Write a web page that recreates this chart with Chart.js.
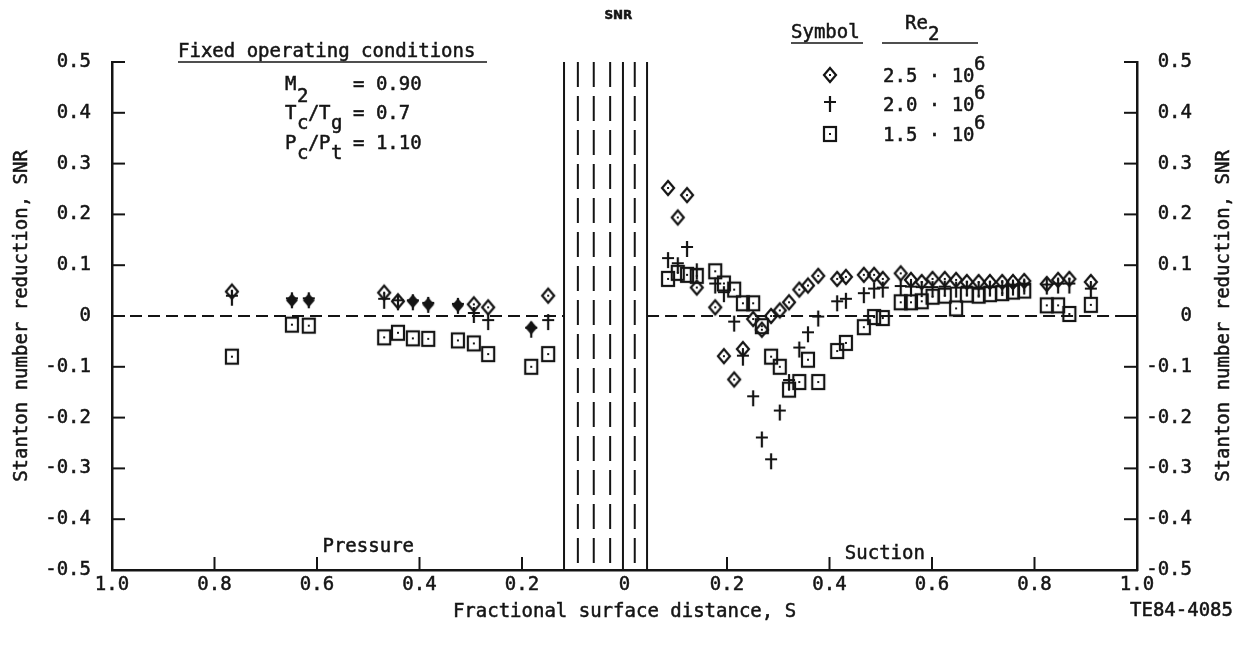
<!DOCTYPE html>
<html>
<head>
<meta charset="utf-8">
<script src="https://cdn.jsdelivr.net/npm/chart.js@4.4.0/dist/chart.umd.min.js"></script>
<style>
  html, body { margin: 0; background: #fff; }
  canvas { display: block; }
</style>
</head>
<body>
<canvas id="myChart" width="1241" height="652"></canvas>
<script>
// pressure side stations, plotted to the left of the stagnation point
const pressureS = [0.766, 0.649, 0.616, 0.469, 0.442, 0.413, 0.383, 0.325, 0.294, 0.266, 0.182, 0.149]
const pressureRe25 = [0.048, 0.031, 0.031, 0.046, 0.029, 0.029, 0.023, 0.021, 0.023, 0.017, -0.023, 0.040]
const pressureRe20 = [0.036, 0.031, 0.031, 0.030, 0.027, 0.027, 0.022, 0.020, 0.002, -0.012, -0.027, -0.012]
const pressureRe15 = [-0.080, -0.017, -0.019, -0.042, -0.033, -0.044, -0.045, -0.048, -0.054, -0.075, -0.100, -0.075]

// suction side stations
const suctionS = [0.085, 0.104, 0.122, 0.141, 0.177, 0.194, 0.214, 0.231, 0.251, 0.268, 0.286, 0.303, 0.321,
    0.341, 0.358, 0.378, 0.415, 0.432, 0.467, 0.487, 0.504, 0.539, 0.559, 0.580, 0.601, 0.625, 0.647, 0.668,
    0.691, 0.713, 0.737, 0.758, 0.780, 0.824, 0.846, 0.868, 0.910]
const suctionRe25 = [0.252, 0.194, 0.238, 0.056, 0.017, -0.079, -0.125, -0.065, -0.006, -0.027, 0.000, 0.011, 0.027,
    0.052, 0.060, 0.079, 0.073, 0.077, 0.081, 0.081, 0.073, 0.084, 0.071, 0.067, 0.073, 0.073, 0.071, 0.067,
    0.067, 0.067, 0.067, 0.067, 0.069, 0.063, 0.071, 0.073, 0.067]
const suctionRe20 = [0.110, 0.100, 0.132, 0.088, 0.060, 0.043, -0.015, -0.082, -0.162, -0.243, -0.286, -0.190, -0.130,
    -0.066, -0.036, -0.005, 0.025, 0.030, 0.041, 0.050, 0.052, 0.055, 0.054, 0.053, 0.053, 0.054, 0.052, 0.054,
    0.052, 0.054, 0.055, 0.056, 0.058, 0.058, 0.060, 0.060, 0.050]
const suctionRe15 = [0.073, 0.085, 0.081, 0.079, 0.088, 0.064, 0.052, 0.025, 0.025, -0.020, -0.080, -0.100, -0.145,
    -0.130, -0.086, -0.130, -0.069, -0.053, -0.022, -0.002, -0.004, 0.027, 0.027, 0.029, 0.038, 0.040, 0.015, 0.042,
    0.040, 0.043, 0.045, 0.048, 0.050, 0.021, 0.021, 0.004, 0.022]

const seriesLabels = ['2.5 · 10', '2.0 · 10', '1.5 · 10']
const xTickMarks = [-0.8, -0.6, -0.4, -0.2, 0.2, 0.4, 0.6, 0.8]

// slot / film cooling row boundaries around the stagnation region
const bandLines = [
    {s: -0.118, dash: false}, {s: -0.091, dash: true}, {s: -0.060, dash: true}, {s: -0.028, dash: true},
    {s: -0.003, dash: false}, {s: 0.020, dash: true}, {s: 0.044, dash: false}
]

const ink = '#141414'
const FONT = '19px "DejaVu Sans Mono"'
// pressure side diamonds that print solid (overlapping symbols in the scan)
const solidDiamonds = [1, 2, 5, 6, 7, 10]

function makeSymbol(kind, solid) {
    const c = document.createElement('canvas')
    c.width = 18
    c.height = 20
    const g = c.getContext('2d')
    g.strokeStyle = ink
    g.fillStyle = ink
    g.lineWidth = 2.2
    if (kind === 'diamond') {
        g.beginPath()
        g.moveTo(9, 3); g.lineTo(15, 10); g.lineTo(9, 17); g.lineTo(3, 10); g.closePath()
        if (solid) g.fill()
        else { g.stroke(); g.fillRect(8, 9, 2, 2) }
    } else if (kind === 'square') {
        g.strokeRect(3, 3, 12, 14)
        g.fillRect(8, 9, 2, 2)
    } else {
        g.beginPath()
        g.moveTo(9, 2); g.lineTo(9, 18)
        g.moveTo(3, 8); g.lineTo(15, 8)
        g.stroke()
    }
    return c
}
const symDiamond = makeSymbol('diamond', false)
const symDiamondSolid = makeSymbol('diamond', true)
const symPlus = makeSymbol('plus')
const symSquare = makeSymbol('square')

function toPoints(pVals, sVals) {
    const pts = pressureS.map((s, i) => ({x: -s, y: pVals[i]}))
    return pts.concat(suctionS.map((s, i) => ({x: s, y: sVals[i]})))
}

const datasets = [
    {label: seriesLabels[2], data: toPoints(pressureRe15, suctionRe15), pointStyle: symSquare},
    {label: seriesLabels[1], data: toPoints(pressureRe20, suctionRe20), pointStyle: symPlus},
    {label: seriesLabels[0], data: toPoints(pressureRe25, suctionRe25),
        pointStyle: (c) => (c.dataIndex < pressureS.length && solidDiamonds.includes(c.dataIndex)) ? symDiamondSolid : symDiamond}
]

function line(ctx, x1, y1, x2, y2) {
    ctx.beginPath()
    ctx.moveTo(x1, y1)
    ctx.lineTo(x2, y2)
    ctx.stroke()
}

function txt(ctx, s, x, y, align, font) {
    ctx.font = font || FONT
    ctx.textAlign = align || 'left'
    ctx.textBaseline = 'middle'
    ctx.lineWidth = 0.5
    ctx.strokeText(s, x, y)
    ctx.fillText(s, x, y)
}

const extras = {
    id: 'extras',
    beforeDatasetsDraw(chart) {
        const {ctx, chartArea: a, scales: {x, y}} = chart
        ctx.save()
        ctx.strokeStyle = ink
        ctx.lineWidth = 2
        // inward tick marks
        y.ticks.forEach(t => {
            const py = y.getPixelForValue(t.value)
            line(ctx, a.left, py, a.left + 13, py)
            line(ctx, a.right - 13, py, a.right, py)
        })
        xTickMarks.forEach(v => {
            const px = x.getPixelForValue(v)
            line(ctx, px, a.bottom, px, a.bottom - 13)
        })
        // zero line
        const y0 = y.getPixelForValue(0)
        ctx.setLineDash([12, 6])
        line(ctx, a.left, y0, x.getPixelForValue(bandLines[0].s), y0)
        line(ctx, x.getPixelForValue(bandLines[bandLines.length - 1].s), y0, a.right, y0)
        // band boundaries
        bandLines.forEach(b => {
            ctx.setLineDash(b.dash ? [25, 9] : [])
            const px = x.getPixelForValue(b.s)
            line(ctx, px, a.top, px, a.bottom)
        })
        ctx.restore()
    },
    afterDraw(chart) {
        const {ctx, chartArea: a, scales: {x, y}} = chart
        ctx.save()
        ctx.fillStyle = ink
        ctx.strokeStyle = ink

        // axis titles
        const midY = (a.top + a.bottom) / 2
        ctx.save()
        ctx.translate(22, midY)
        ctx.rotate(-Math.PI / 2)
        txt(ctx, 'Stanton number reduction, SNR', 0, 0, 'center')
        ctx.restore()
        ctx.save()
        ctx.translate(1224, midY)
        ctx.rotate(-Math.PI / 2)
        txt(ctx, 'Stanton number reduction, SNR', 0, 0, 'center')
        ctx.restore()
        txt(ctx, 'Fractional surface distance, S', x.getPixelForValue(0), a.bottom + 42, 'center')
        txt(ctx, 'TE84-4085', 1233, a.bottom + 41, 'right')

        txt(ctx, 'SNR', x.getPixelForValue(-0.012), 16, 'center', 'bold 12px "DejaVu Sans"')
        txt(ctx, 'Pressure', x.getPixelForValue(-0.5), y.getPixelForValue(-0.455), 'center')
        txt(ctx, 'Suction', x.getPixelForValue(0.508), y.getPixelForValue(-0.468), 'center')

        // fixed operating conditions
        txt(ctx, 'Fixed operating conditions', 178, 52)
        ctx.lineWidth = 1.5
        line(ctx, 178, 62, 487, 62)
        txt(ctx, 'M', 285, 85); txt(ctx, '2', 297, 97); txt(ctx, '= 0.90', 353, 85)
        txt(ctx, 'T', 285, 114); txt(ctx, 'c', 297, 124); txt(ctx, '/', 308, 114)
        txt(ctx, 'T', 319, 114); txt(ctx, 'g', 331, 124); txt(ctx, '= 0.7', 353, 114)
        txt(ctx, 'P', 285, 144); txt(ctx, 'c', 297, 154); txt(ctx, '/', 308, 144)
        txt(ctx, 'P', 319, 144); txt(ctx, 't', 331, 154); txt(ctx, '= 1.10', 353, 144)

        // symbol key
        txt(ctx, 'Symbol', 791, 33)
        txt(ctx, 'Re', 905, 24); txt(ctx, '2', 928, 35)
        ctx.lineWidth = 1.5
        line(ctx, 791, 43, 863, 43)
        line(ctx, 882, 43, 978, 43)
        const keySyms = [symDiamond, symPlus, symSquare]
        const rowsY = [75, 104, 134]
        keySyms.forEach((s, i) => {
            ctx.drawImage(s, 830 - s.width / 2, rowsY[i] - s.height / 2)
            txt(ctx, seriesLabels[i], 883, rowsY[i] + 2)
            txt(ctx, '6', 974, rowsY[i] - 10)
        })
        ctx.restore()
    }
}

const tickFont = {family: 'DejaVu Sans Mono', size: 19}
const yFmt = (v) => Math.abs(v) < 1e-9 ? '0' : v.toFixed(1)
const tickInk = {color: ink, font: tickFont, textStrokeColor: ink, textStrokeWidth: 0.5}

const myChart = new Chart(document.getElementById('myChart').getContext('2d'), {
    type: 'scatter',
    data: {datasets},
    options: {
        responsive: false,
        animation: false,
        devicePixelRatio: 1,
        layout: {padding: {top: 62, right: 49, left: 0, bottom: 0}},
        plugins: {legend: {display: false}, tooltip: {enabled: false}},
        elements: {point: {radius: 7}},
        scales: {
            x: {
                type: 'linear', min: -1, max: 1,
                grid: {display: false},
                border: {display: true, color: ink, width: 2.5},
                ticks: {
                    ...tickInk, stepSize: 0.2, padding: -4, maxRotation: 0, autoSkip: false,
                    callback: (v) => Math.abs(v) < 1e-9 ? '0' : Math.abs(v).toFixed(1)
                },
                afterFit: (s) => { s.height = 82 }
            },
            y: {
                type: 'linear', position: 'left', min: -0.5, max: 0.5,
                grid: {display: false},
                border: {display: true, color: ink, width: 2.5},
                ticks: {...tickInk, stepSize: 0.1, padding: 13, callback: yFmt},
                afterFit: (s) => { s.width = 112 }
            },
            y2: {
                type: 'linear', position: 'right', min: -0.5, max: 0.5,
                grid: {display: false},
                border: {display: true, color: ink, width: 2.5},
                ticks: {...tickInk, stepSize: 0.1, padding: 14, crossAlign: 'far', callback: yFmt},
                afterFit: (s) => { s.width = 55 }
            }
        }
    },
    plugins: [extras]
})
</script>
</body>
</html>
